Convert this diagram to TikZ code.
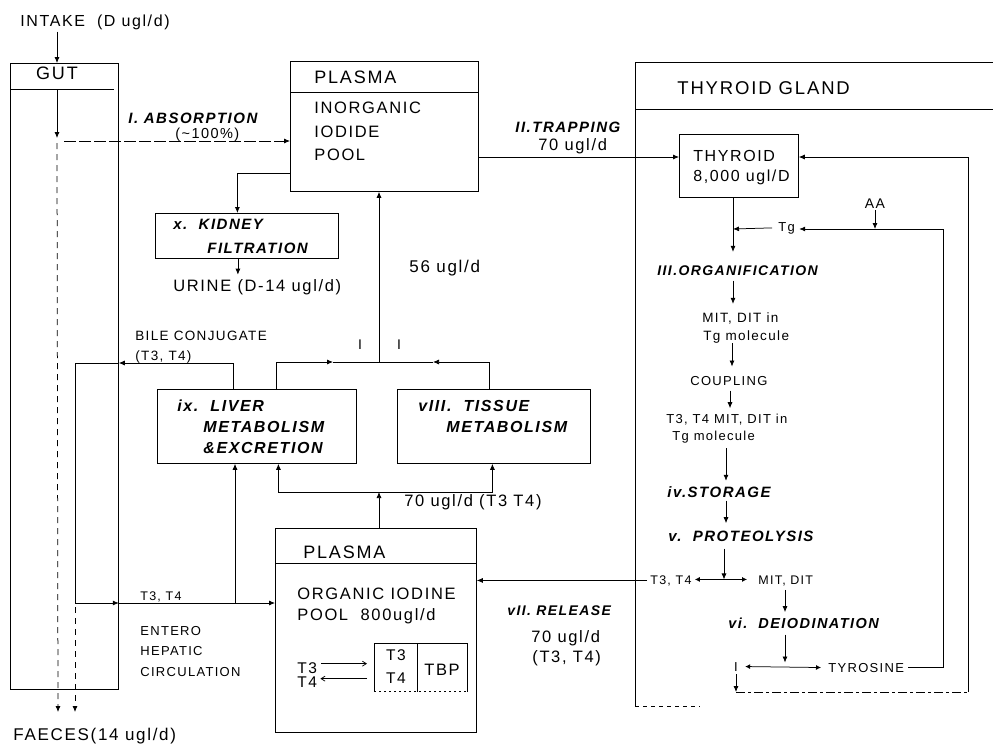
\documentclass[tikz,border=0pt]{standalone}
\usepackage{fontspec}
\setmainfont{Liberation Sans}[LetterSpace=10]
\usetikzlibrary{arrows.meta}
\begin{document}
\begin{tikzpicture}[x=1pt,y=-1pt,line width=0.75pt,
  box/.style={draw,line width=0.8pt,inner sep=0pt,anchor=north west},
  txt/.style={inner sep=0pt,anchor=base west,font=\fontsize{#1}{#1}\selectfont},
  txt/.default=15,
  bi/.style={inner sep=0pt,anchor=base west,font=\fontsize{#1}{#1}\selectfont\bfseries\itshape},
  bi/.default=15,
  arr/.style={-{Latex[length=6pt,width=5pt]}},
  barb/.style={-{Straight Barb[length=4pt,width=5pt]}},
  darr/.style={{Latex[length=5pt,width=5pt]}-{Latex[length=5pt,width=5pt]}},
  gutdash/.style={dash pattern=on 6pt off 5pt},
  longdash/.style={dash pattern=on 12pt off 3pt},
  faint/.style={dash pattern=on 9pt off 3pt on 3pt off 3pt},
]
\fill[white] (0,0) rectangle (993,745);
\useasboundingbox (0,0) rectangle (993,745);

% ---------------- boxes ----------------
\node[box,minimum width=108,minimum height=626] (gut) at (10,63) {};
\node[box,minimum width=188,minimum height=130] (plasma1) at (290,61) {};
\node[box,minimum width=183,minimum height=45] (kidney) at (155,213) {};
\node[box,minimum width=199,minimum height=74] (liver) at (157,389) {};
\node[box,minimum width=193,minimum height=74] (tissue) at (397,389) {};
\node[box,minimum width=201,minimum height=204] (plasma2) at (275,528) {};
\node[inner sep=0pt,anchor=north west,minimum width=93,minimum height=48] (tbpbox) at (374,643) {};
\node[box,minimum width=119,minimum height=63] (thyroid) at (679,134) {};

% compartment header rules
\draw ([yshift=-26pt]gut.north west) -- ([yshift=-26pt,xshift=-5pt]gut.north east);
\draw ([yshift=-31pt]plasma1.north west) -- ([yshift=-31pt]plasma1.north east);
\draw ([yshift=-35pt]plasma2.north west) -- ([yshift=-35pt]plasma2.north east);

% binding protein box (open dashed bottom)
\draw (tbpbox.south west) -- (tbpbox.north west) -- (tbpbox.north east) -- (tbpbox.south east);
\draw[dash pattern=on 2pt off 3pt] (tbpbox.south west) -- (tbpbox.south east);
\draw ([xshift=43pt]tbpbox.north west) -- ([xshift=43pt]tbpbox.south west);

% thyroid gland compartment
\coordinate (glandNW) at (635,62);
\draw (993,62) -- (glandNW) -- (635,706);
\draw (635,109) -- (993,109);
\draw[dash pattern=on 4pt off 4pt] (635,706) -- (700,706);

% ---------------- labels ----------------
\node[txt=16] (intake) at (20,26) {INTAKE\ \ (D ugl/d)};
\node[txt=18,anchor=base] (gutlbl) at (57,79) {GUT};
\node[bi=15] (absorb) at (128,123) {I. ABSORPTION};
\node[txt=14.5] (absval) at (175,138) {(\textasciitilde 100\%)};

\node[txt=18] (p1title) at (314,83) {PLASMA};
\node[txt=16.5] (p1a) at (314,113) {INORGANIC};
\node[txt=16.5] (p1b) at (314,137) {IODIDE};
\node[txt=16.5] (p1c) at (314,160) {POOL};

\node[bi=15] (kid1) at (173,229) {x.\ \ KIDNEY};
\node[bi=15] (kid2) at (207,253) {FILTRATION};
\node[txt=16.5] (urine) at (173,291) {URINE (D-14 ugl/d)};
\node[txt=17] (v56) at (409,272) {56 ugl/d};

\node[txt=13.5] (bile1) at (135,340) {BILE CONJUGATE};
\node[txt=13.5] (bile2) at (135,360) {(T3, T4)};
\node[txt=14,anchor=base] (iL) at (360,349) {I};
\node[txt=14,anchor=base] (iR) at (399,349) {I};

\node[bi=16] (liv1) at (177,411) {ix.\ \ LIVER};
\node[bi=16] (liv2) at (203,432) {METABOLISM};
\node[bi=16] (liv3) at (203,453) {\&EXCRETION};
\node[bi=16] (tis1) at (418,411) {vIII.\ \ TISSUE};
\node[bi=16] (tis2) at (446,432) {METABOLISM};

\node[txt=16.5] (v70b) at (404,506) {70 ugl/d (T3 T4)};

\node[txt=12.5] (gt34) at (140,600) {T3, T4};
\node[txt=13] (ent1) at (140,635) {ENTERO};
\node[txt=13] (ent2) at (140,655) {HEPATIC};
\node[txt=13] (ent3) at (140,676) {CIRCULATION};
\node[txt=17] (faeces) at (13,740) {FAECES(14 ugl/d)};

\node[txt=18] (p2title) at (303,558) {PLASMA};
\node[txt=16.5] (p2a) at (297,599) {ORGANIC IODINE};
\node[txt=16.5] (p2b) at (297,620) {POOL\ \ 800ugl/d};
\node[txt=15.5] (t3) at (297,673) {T3};
\node[txt=15.5] (t4) at (297,687) {T4};
\node[txt=15.5,anchor=base] (bt3) at (396,660) {T3};
\node[txt=15.5,anchor=base] (bt4) at (396,683) {T4};
\node[txt=16.5,anchor=base] (tbp) at (442,675) {TBP};

\node[bi=14] (rel1) at (507,615) {vII. RELEASE};
\node[txt=16.5] (rel2) at (531,642) {70 ugl/d};
\node[txt=16.5] (rel3) at (532,662) {(T3, T4)};

\node[bi=15] (trap1) at (515,132) {II.TRAPPING};
\node[txt=16.5] (trap2) at (538,150) {70 ugl/d};

\node[txt=18.5] (gland) at (677,94) {THYROID GLAND};
\node[txt=16] (thy1) at (693,161) {THYROID};
\node[txt=16] (thy2) at (693,181) {8,000 ugl/D};
\node[txt=14,anchor=base] (aa) at (875,208) {AA};
\node[txt=13] (tg) at (778,231) {Tg};
\node[bi=14] (org) at (657,275) {III.ORGANIFICATION};
\node[txt=13.5] (mit1) at (702,322) {MIT, DIT in};
\node[txt=13.5] (mit2) at (703,340) {Tg molecule};
\node[txt=13] (coup) at (690,385) {COUPLING};
\node[txt=13] (tmit1) at (666,423) {T3, T4 MIT, DIT in};
\node[txt=13] (tmit2) at (672,440) {Tg molecule};
\node[bi=15] (stor) at (667,497) {iv.STORAGE};
\node[bi=15] (prot) at (668,541) {v.\ \ PROTEOLYSIS};
\node[txt=12.5] (tt34) at (650,584) {T3, T4};
\node[txt=12.5] (mitdit) at (758,584) {MIT, DIT};
\node[bi=14.5] (deiod) at (728,628) {vi.\ \ DEIODINATION};
\node[txt=13,anchor=base] (iod) at (736,671) {I};
\node[txt=13] (tyro) at (828,672) {TYROSINE};

% ---------------- connectors ----------------
\coordinate (gutin) at (57,89);
\coordinate (gutabs) at (57,141);
\coordinate (faeces1) at (58,712);
\coordinate (bileup) at (233,363);
\coordinate (bilecorner) at (75,363);
\coordinate (entcorner) at (75,603);
\coordinate (entjn) at (235,603);
\coordinate (p1k) at (290,173);
\coordinate (jn) at (379,362);
\coordinate (br) at (379,492);
\coordinate (trapy) at (0,157);
\coordinate (tgj) at (733,229);
\coordinate (colD) at (785,0);
\coordinate (loopR) at (943,229);
\coordinate (loopB) at (736,692);
\coordinate (loopC) at (968,692);

% gut passage
\draw[arr] ([yshift=-2pt]intake.south -| gutlbl) -- (gutlbl |- gut.north);
\draw[arr] (gutin) -- ([yshift=3pt]gutabs);
\draw[arr,gutdash] ([yshift=-2pt]gutabs) -- (faeces1);
\draw[arr,gutdash] ([yshift=-4pt]entcorner) -- (entcorner |- faeces1);

% absorption into the inorganic pool
\draw[arr,longdash] ([xshift=7pt]gutabs) -- (gutabs -| plasma1.west);

% kidney
\draw[arr] (p1k) -| ([xshift=-9.5pt]kidney.north);
\draw[arr] ([xshift=-9pt]kidney.south) -- ([xshift=-9pt,yshift=4pt]kidney.south |- urine.north);

% return of iodide to the inorganic pool
\draw[arr] ([xshift=19.5pt]liver.north) |- ([xshift=-46pt]jn);
\draw ([xshift=-46pt]jn) -- (jn);
\draw[arr] ([xshift=-4.5pt]tissue.north) |- ([xshift=54pt]jn);
\draw ([xshift=54pt]jn) -- (jn);
\draw[arr] (jn) -- (jn |- plasma1.south);

% bile conjugates and entero-hepatic circulation
\draw[arr] (bileup |- liver.north) -- (bileup) -- (bileup -| gut.east);
\draw (bileup -| gut.east) -- (bilecorner) -- (entcorner);
\draw[arr] (entcorner) -- (entcorner -| gut.east);
\draw[arr] (entcorner -| gut.east) -- (entcorner -| plasma2.west);
\draw[arr] (entjn) -- (entjn |- liver.south);

% organic pool to liver and tissues
\draw[arr] (br |- plasma2.north) -- (br);
\draw[arr] (br) -| ([xshift=21.5pt]liver.south);
\draw[arr] (br) -| ([xshift=-1.5pt]tissue.south);

% binding equilibrium
\draw[barb] ([xshift=4pt,yshift=4pt]t3.east) -- ([xshift=-7pt,yshift=4pt]tbpbox.west |- t3.east);
\draw[barb] ([xshift=-7pt,yshift=3pt]tbpbox.west |- t4.east) -- ([xshift=3pt,yshift=3pt]t4.east);

% trapping and release
\draw[arr] (plasma1.east |- trapy) -- (thyroid.west |- trapy);
\draw[arr] ([xshift=-3pt]tt34.west) -- (tt34.west -| plasma2.east);

% hormone synthesis inside the gland
\draw[arr] (thyroid.south -| tgj) -- ([yshift=13pt]tgj |- org.north);
\draw[arr] ([xshift=-6pt]tg.west) -- (tgj);
\draw[arr] ([xshift=4pt]tyro.east) -| (loopR) -- ([xshift=4pt]tg.east |- loopR);
\draw[arr] ([yshift=-2pt]aa.south) -- (aa.south |- loopR);
\draw[arr] ([yshift=-5pt]org.south -| tgj) -- ([yshift=8pt]mit1.north -| tgj);
\draw[arr] ([xshift=-1pt]mit2.south -| tgj) -- ([xshift=-1pt,yshift=9pt]coup.north -| tgj);
\draw[arr] ([xshift=-3pt,yshift=-5pt]coup.south -| tgj) -- ([xshift=-3pt,yshift=5pt]tmit1.north -| tgj);
\draw[arr] ([xshift=-7pt,yshift=-5pt]tmit2.south -| tgj) -- ([xshift=-7pt,yshift=5pt]stor.north -| tgj);
\draw[arr] ([xshift=-7pt,yshift=-3pt]stor.south -| tgj) -- ([xshift=-7pt,yshift=7pt]prot.north -| tgj);
\draw[arr] ([xshift=-9pt,yshift=-7pt]prot.south -| tgj) -- ([xshift=-9pt,yshift=1pt]tt34.east -| tgj);
\draw[darr] ([xshift=3pt,yshift=1pt]tt34.east) -- ([xshift=-11pt,yshift=1pt]mitdit.west |- tt34.east);
\draw[arr] ([yshift=-4pt]mitdit.south -| colD) -- ([yshift=5pt]deiod.north -| colD);
\draw[arr] ([yshift=-6pt]deiod.south -| colD) -- ([yshift=4pt]iod.east -| colD);
\draw[darr] ([xshift=7pt]iod.east) -- ([xshift=-7pt]tyro.west);
\draw[arr] ([yshift=-3pt]iod.south) -- (loopB);
\draw[faint] (loopB) -- (loopC);
\draw[arr] (loopC) -- (loopC |- trapy) -- (thyroid.east |- trapy);
\end{tikzpicture}
\end{document}
